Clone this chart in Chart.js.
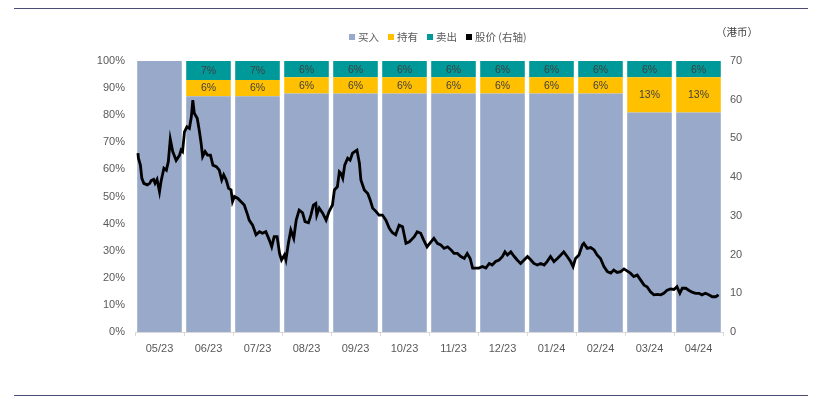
<!DOCTYPE html>
<html lang="zh">
<head>
    <meta charset="UTF-8">
    <title>评级分布与股价</title>
    <style>
        body {
            margin: 0;
            background: #fff;
            font-family: "Noto Sans CJK SC", sans-serif;
        }
        #wrap {
            position: relative;
            width: 819px;
            height: 398px;
        }
        #topline, #bottomline {
            position: absolute;
            left: 14px;
            width: 794px;
            height: 1px;
            background: #4a4c74;
        }
        #topline { top: 8px; }
        #bottomline { top: 395px; }
        #legend {
            position: absolute;
            left: 349px;
            top: 29px;
            font-size: 10.5px;
            color: #595959;
            white-space: nowrap;
        }
        #legend span.item { margin-right: 9px; }
        #legend i {
            display: inline-block;
            width: 6px;
            height: 6px;
            margin-right: 3px;
            vertical-align: 1px;
        }
        #unit {
            position: absolute;
            left: 716px;
            top: 24px;
            font-size: 10.5px;
            color: #404040;
        }
        canvas { position: absolute; left: 0; top: 0; }
    </style>
</head>
<body>
<div id="wrap">
    <div id="topline"></div>
    <canvas id="chart" width="819" height="398"></canvas>
    <div id="legend"></div>
    <div id="unit">（港币）</div>
    <div id="bottomline"></div>
</div>

<script src="https://cdn.jsdelivr.net/npm/chart.js@4"></script>
<script>
    // 月份
    const months = ['05/23', '06/23', '07/23', '08/23', '09/23', '10/23', '11/23', '12/23', '01/24', '02/24', '03/24', '04/24'];
    // 评级占比 (%)
    const holdPct = [0, 6, 6, 6, 6, 6, 6, 6, 6, 6, 13, 13];
    const sellPct = [0, 7, 7, 6, 6, 6, 6, 6, 6, 6, 6, 6];
    const buyPct = months.map((m, i) => 100 - holdPct[i] - sellPct[i]);

    // 股价 (右轴, 港币) - 横坐标以月为单位
    const priceX = [
        0.06, 0.07, 0.11, 0.14, 0.18, 0.25, 0.30, 0.33, 0.38, 0.41, 0.45, 0.50, 0.53, 0.59, 0.64, 0.68, 0.72, 0.77, 0.84, 0.91,
        0.94, 0.97, 1.01, 1.06, 1.11, 1.15, 1.18, 1.21, 1.27, 1.31, 1.35, 1.38, 1.43, 1.48, 1.54, 1.59, 1.66, 1.72, 1.77, 1.81,
        1.86, 1.91, 1.96, 1.99, 2.03, 2.10, 2.16, 2.23, 2.30, 2.33, 2.40, 2.47, 2.54, 2.60, 2.67, 2.74, 2.79, 2.84, 2.90, 2.95,
        2.99, 3.05,
        3.08, 3.13, 3.18, 3.24, 3.29, 3.35, 3.42, 3.47, 3.54, 3.59, 3.64, 3.69, 3.71, 3.76, 3.83, 3.90, 3.96, 4.03, 4.07, 4.13,
        4.17, 4.20, 4.24, 4.28, 4.34, 4.39, 4.44, 4.53, 4.58, 4.61, 4.68, 4.75, 4.80, 4.85, 4.92, 4.98, 5.05, 5.12, 5.19, 5.25,
        5.32, 5.39, 5.46, 5.53, 5.60, 5.70, 5.76, 5.83, 5.89, 5.96, 6.04, 6.10,
        6.17, 6.24, 6.31, 6.38, 6.45, 6.51, 6.58, 6.65, 6.72, 6.78, 6.84, 6.89, 6.95, 7.02, 7.09, 7.16, 7.23, 7.29, 7.36, 7.43,
        7.50, 7.55, 7.60, 7.67, 7.74, 7.80, 7.87, 7.94, 8.01, 8.08, 8.14, 8.21, 8.28, 8.35, 8.41, 8.48, 8.55, 8.62, 8.69, 8.75,
        8.82, 8.89, 8.94, 8.99, 9.06, 9.13, 9.16,
        9.23, 9.30, 9.37, 9.43, 9.50, 9.57, 9.64, 9.71, 9.77, 9.84, 9.91, 9.98, 10.04, 10.11, 10.18, 10.25, 10.32, 10.39, 10.45, 10.52,
        10.59, 10.66, 10.73, 10.79, 10.86, 10.93, 11.00, 11.06, 11.12, 11.17, 11.24, 11.30, 11.37, 11.44, 11.51, 11.57, 11.64, 11.71, 11.78, 11.85,
        11.91
    ];
    const priceY = [
        46.2, 44.9, 43.1, 39.7, 38.4, 38.0, 38.4, 39.1, 39.4, 38.4, 39.4, 36.2, 38.8, 42.3, 41.8, 44.0, 49.8, 46.6, 44.3, 45.7,
        47.0, 46.6, 51.7, 53.0, 52.6, 55.6, 59.9, 56.5, 55.2, 52.2, 48.7, 45.3, 46.6, 45.7, 45.7, 43.1, 42.7, 41.8, 39.3, 40.6,
        39.3, 37.1, 36.7, 33.7, 35.0, 34.5, 33.7, 32.8, 30.2, 28.9, 27.6, 25.1, 25.9, 25.5, 25.9, 23.8, 22.0, 24.6, 24.6, 20.3,
        18.6, 19.9,
        18.6, 22.9, 26.3, 24.2, 28.9, 31.5, 30.8, 28.5, 28.2, 30.2, 32.8, 33.2, 30.2, 32.0, 30.7, 28.9, 31.1, 32.8, 36.7, 37.5,
        41.4, 41.0, 39.7, 43.1, 44.9, 44.4, 46.2, 47.0, 43.6, 39.3, 36.7, 35.8, 34.1, 32.0, 31.1, 30.2, 30.2, 28.9, 26.8, 25.7,
        25.1, 27.6, 27.2, 22.9, 23.3, 24.6, 25.9, 25.5, 23.8, 22.0, 23.3, 24.2,
        22.9, 22.5, 21.6, 22.0, 21.2, 20.3, 20.3, 19.5, 19.0, 20.3, 19.0, 16.5, 16.5, 16.5, 16.9, 16.5, 17.7, 17.3, 18.2, 18.6,
        19.5, 20.7, 19.9, 20.7, 19.5, 18.6, 17.7, 18.6, 19.5, 18.6, 17.7, 17.3, 17.7, 17.3, 18.2, 19.5, 18.2, 19.0, 19.9, 20.7,
        19.5, 18.2, 16.9, 19.0, 19.9, 22.5, 22.9,
        21.6, 21.8, 21.2, 19.9, 19.0, 16.9, 15.6, 15.2, 16.0, 15.4, 15.6, 16.3, 15.8, 15.2, 14.3, 14.7, 13.4, 12.1, 11.7, 10.4,
        9.6, 9.7, 9.6, 10.0, 10.8, 11.1, 11.0, 11.7, 10.0, 11.3, 11.3, 10.8, 10.3, 10.0, 10.0, 9.6, 10.0, 9.6, 9.1, 9.1,
        9.6
    ];

    const legendItems = [
        { text: '买入', color: '#98a9c9' },
        { text: '持有', color: '#ffc000' },
        { text: '卖出', color: '#009999' },
        { text: '股价 (右轴)', color: '#000000' }
    ];

    // 图例 (HTML)
    document.getElementById('legend').innerHTML = legendItems
        .map(it => `<span class="item"><i style="background:${it.color}"></i>${it.text}</span>`)
        .join('');

    // 柱内百分比标签
    const barLabels = {
        id: 'barLabels',
        afterDatasetsDraw(chart) {
            const ctx = chart.ctx;
            ctx.save();
            ctx.font = '10.5px "Liberation Sans", sans-serif';
            ctx.textAlign = 'center';
            ctx.textBaseline = 'middle';
            ctx.fillStyle = '#404040';
            [1, 2].forEach(di => {
                const meta = chart.getDatasetMeta(di);
                const values = chart.data.datasets[di].data;
                meta.data.forEach((bar, i) => {
                    if (!values[i]) return;
                    const p = bar.getProps(['x', 'y', 'base'], true);
                    ctx.fillText(values[i] + '%', p.x, (p.y + p.base) / 2 + 0.5);
                });
            });
            ctx.restore();
        }
    };

    const tickFont = { family: '"Liberation Sans", sans-serif', size: 11 };

    const ctx = document.getElementById('chart').getContext('2d');
    new Chart(ctx, {
        type: 'bar',
        data: {
            labels: months,
            datasets: [
                { label: '买入', data: buyPct, backgroundColor: '#98a9c9', stack: 'rating', order: 1 },
                { label: '持有', data: holdPct, backgroundColor: '#ffc000', stack: 'rating', order: 1 },
                { label: '卖出', data: sellPct, backgroundColor: '#009999', stack: 'rating', order: 1 },
                {
                    type: 'line',
                    label: '股价 (右轴)',
                    data: priceX.map((x, i) => ({ x: x, y: priceY[i] })),
                    xAxisID: 'x2',
                    yAxisID: 'y2',
                    borderColor: '#000000',
                    borderWidth: 2.8,
                    pointRadius: 0,
                    tension: 0,
                    order: 0
                }
            ]
        },
        options: {
            responsive: false,
            animation: false,
            layout: { padding: { top: 61, left: 0, right: 0, bottom: 0 } },
            datasets: {
                bar: { barPercentage: 0.91, categoryPercentage: 1.0, grouped: false }
            },
            plugins: {
                legend: { display: false },
                tooltip: { enabled: false }
            },
            scales: {
                x: {
                    stacked: true,
                    offset: true,
                    grid: {
                        display: true,
                        drawOnChartArea: false,
                        drawTicks: true,
                        tickLength: 4,
                        color: '#d9d9d9',
                        offset: true
                    },
                    border: { display: true, color: '#d9d9d9' },
                    ticks: { color: '#595959', font: tickFont, padding: 6, maxRotation: 0 },
                    afterFit(scale) { scale.height = 66; }
                },
                x2: {
                    type: 'linear',
                    display: false,
                    offset: false,
                    grid: { offset: false },
                    min: 0,
                    max: 12
                },
                y: {
                    stacked: true,
                    position: 'left',
                    min: 0,
                    max: 100,
                    grid: { display: false, drawTicks: false },
                    border: { display: false },
                    ticks: {
                        stepSize: 10,
                        color: '#595959',
                        font: tickFont,
                        padding: 10,
                        callback: v => v + '%'
                    },
                    afterFit(scale) { scale.width = 135; }
                },
                y2: {
                    position: 'right',
                    min: 0,
                    max: 70,
                    grid: { display: false, drawTicks: false },
                    border: { display: false },
                    ticks: { stepSize: 10, color: '#595959', font: tickFont, padding: 7 },
                    afterFit(scale) { scale.width = 96; }
                }
            }
        },
        plugins: [barLabels]
    });
</script>
</body>
</html>
